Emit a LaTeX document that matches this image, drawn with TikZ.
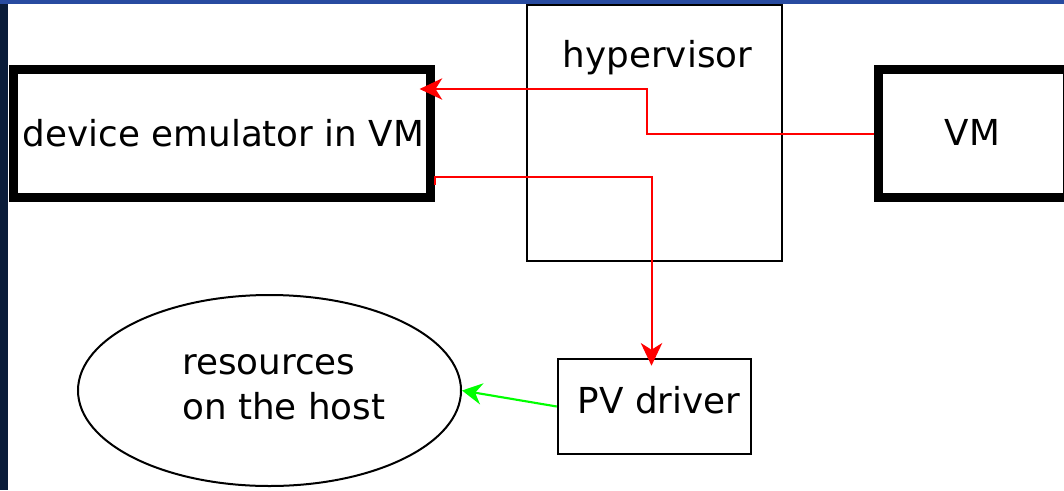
\documentclass[tikz,border=0pt]{standalone}
\usepackage{fontspec}
\setmainfont{DejaVu Sans}
\usetikzlibrary{arrows.meta,shapes.geometric,calc}
\definecolor{navy}{RGB}{10,28,58}
\definecolor{topblue}{RGB}{40,75,160}
\definecolor{redline}{RGB}{255,0,0}
\definecolor{greenline}{RGB}{0,255,0}
\begin{document}
\begin{tikzpicture}[x=0.75pt,y=-0.75pt,
  thickbox/.style={draw=black,line width=6.75pt,rectangle,inner sep=0pt},
  thinbox/.style={draw=black,line width=1.9pt,rectangle,inner sep=0pt},
  lbl/.style={font=\fontsize{26.8pt}{33.75pt}\selectfont,inner sep=0pt,anchor=base},
  redarrow/.style={draw=redline,line width=1.5pt,-{Stealth[length=17pt,width=16pt,inset=5pt]}},
  greenarrow/.style={draw=greenline,line width=1.6pt,-{Stealth[length=15pt,width=16pt,inset=5pt]}}]
\useasboundingbox (0,0) rectangle (1064,490);
\clip (0,0) rectangle (1064,490);
\fill[navy] (0,0) rectangle (1064,490);
\fill[topblue] (0,0) rectangle (1064,4);
\fill[white] (8.3,4) rectangle (1064,490);

\node[thickbox,minimum width=312.75pt,minimum height=96pt] (dev) at (222,133.5) {};
\node[lbl] (devt) at (223.5,146.5) {device emulator in VM};
\node[thickbox,minimum width=141.75pt,minimum height=96pt] (vm) at (973,133.5) {};
\node[lbl] (vmt) at (972.5,145) {VM};
\node[thinbox,minimum width=191.25pt,minimum height=192pt] (hyp) at (654.5,133) {};
\node[lbl] (hypt) at (657.5,67) {hypervisor};
\node[thinbox,minimum width=144.75pt,minimum height=71.25pt] (pv) at (654.5,406.5) {};
\node[lbl] (pvt) at (659,413) {PV driver};
\node[ellipse,draw,line width=1.5pt,minimum width=287.25pt,minimum height=143.25pt,inner sep=0pt] (res) at (269.5,390.5) {};
\node[lbl,anchor=base west,align=left] (rest) at (182,419) {resources\\on the host};

\coordinate (k1) at (647,89);
\draw[redarrow,shorten >=-11.6pt] (vm.west) -| (k1) -- (dev.east |- k1);
\coordinate (k2) at (651.5,177);
\draw[redarrow,shorten >=-6pt] ($(dev.east)+(0,51.5)$) -- (dev.east |- k2) -- (k2) -- (k2 |- pv.north);
\draw[greenarrow] (pv.west) -- (res.east);
\end{tikzpicture}
\end{document}
